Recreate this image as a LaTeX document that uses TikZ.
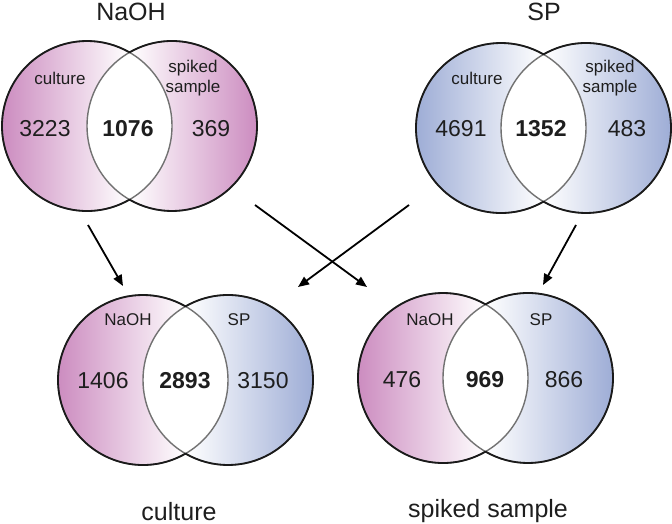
\documentclass[tikz,border=0pt]{standalone}
\usepackage{fontspec}
\setmainfont{Liberation Sans}
\usepackage{xcolor}
\usepackage{tikz}
\usetikzlibrary{calc,arrows.meta}
\definecolor{ink}{HTML}{1E1E1E}
\definecolor{rim}{HTML}{1A1A1A}
\definecolor{seam}{HTML}{727272}
\definecolor{pinkish}{HTML}{CC8CC0}
\definecolor{blueish}{HTML}{9EADD6}
\tikzset{
  outer/.style={draw=rim, line width=1.8pt, line cap=round},
  inner/.style={draw=seam, line width=1.4pt},
  arr/.style={draw=black, line width=1.8pt, -{Triangle[length=11pt,width=9pt]}},
  title/.style={text=ink, anchor=base, inner sep=0pt, font=\fontsize{25}{30}\selectfont},
  num/.style={text=ink, anchor=base, inner sep=0pt, font=\fontsize{23}{28}\selectfont},
  numb/.style={num, font=\fontsize{23}{28}\selectfont\bfseries},
  lab/.style={text=ink, anchor=base, inner sep=0pt, font=\fontsize{17}{20}\selectfont},
  labtwo/.style={text=ink, inner sep=0pt, align=center, font=\fontsize{17}{20}\selectfont},
}
\def\rad{85}
% one pair of circles: left centre, right centre, left colour, right colour
\newcommand{\vennpair}[4]{%
  \begin{scope}
    \clip (#1) circle (\rad);
    \shade[left color=#3, right color=white] ($(#1)+(-\rad,-\rad)$) rectangle ($(#1)+(0.5*\rad,\rad)$);
  \end{scope}
  \begin{scope}
    \clip (#2) circle (\rad);
    \shade[left color=white, right color=#4] ($(#2)+(-0.5*\rad,-\rad)$) rectangle ($(#2)+(\rad,\rad)$);
  \end{scope}
  \begin{scope}
    \clip (#1) circle (\rad);
    \fill[white] (#2) circle (\rad);
  \end{scope}
  \draw[inner] (#1) circle (\rad);
  \draw[inner] (#2) circle (\rad);
  \draw[outer] ($(#1)+(60:\rad)$) arc[start angle=60, end angle=300, radius=\rad];
  \draw[outer] ($(#2)+(-120:\rad)$) arc[start angle=-120, end angle=120, radius=\rad];
}

\begin{document}
\begin{tikzpicture}[x=1pt,y=-1pt]
  \useasboundingbox (0,0) rectangle (672,524);
  \fill[white] (0,0) rectangle (672,524);

  % circle centres
  \coordinate (nL) at (87,126);
  \coordinate (nR) at (172,126);
  \coordinate (sL) at (501,128);
  \coordinate (sR) at (586,128);
  \coordinate (cL) at (143,380);
  \coordinate (cR) at (228,380);
  \coordinate (kL) at (443,378);
  \coordinate (kR) at (528,378);

  \vennpair{nL}{nR}{pinkish}{pinkish}
  \vennpair{sL}{sR}{blueish}{blueish}
  \vennpair{cL}{cR}{pinkish}{blueish}
  \vennpair{kL}{kR}{pinkish}{blueish}

  % NaOH
  \node[title] (tNaOH) at (131,21) {NaOH};
  \node[lab] (naohCult) at (60,85) {culture};
  \node[labtwo] (naohSpk) at (193,78) {spiked\\sample};
  \node[num] (naohOnlyC) at (45,137) {3223};
  \node[numb] (naohBoth) at (128,137) {1076};
  \node[num] (naohOnlyS) at (211,137) {369};

  % SP
  \node[title] (tSP) at (544,21) {SP};
  \node[lab] (spCult) at (477,85) {culture};
  \node[labtwo] (spSpk) at (610,78) {spiked\\sample};
  \node[num] (spOnlyC) at (461,137) {4691};
  \node[numb] (spBoth) at (541,137) {1352};
  \node[num] (spOnlyS) at (627,137) {483};

  % culture
  \node[lab] (cultNaOH) at (128,325) {NaOH};
  \node[lab] (cultSP) at (239,325) {SP};
  \node[num] (cultOnlyN) at (103,388) {1406};
  \node[numb] (cultBoth) at (185,388) {2893};
  \node[num] (cultOnlyP) at (263,388) {3150};
  \node[title] (tCult) at (179,520) {culture};

  % spiked sample
  \node[lab] (spkNaOH) at (430,325) {NaOH};
  \node[lab] (spkSP) at (541,325) {SP};
  \node[num] (spkOnlyN) at (402,387) {476};
  \node[numb] (spkBoth) at (485,387) {969};
  \node[num] (spkOnlyP) at (564,387) {866};
  \node[title] (tSpk) at (488,517) {spiked sample};

  % arrows
  \coordinate (a1s) at (88,225);  \coordinate (a1e) at (123,286);
  \coordinate (a2s) at (255,205); \coordinate (a2e) at (367,287);
  \coordinate (a3s) at (409,205); \coordinate (a3e) at (298,287);
  \coordinate (a4s) at (576,225); \coordinate (a4e) at (543,285);
  \draw[arr] (a1s) -- (a1e);
  \draw[arr] (a2s) -- (a2e);
  \draw[arr] (a3s) -- (a3e);
  \draw[arr] (a4s) -- (a4e);
\end{tikzpicture}
\end{document}
